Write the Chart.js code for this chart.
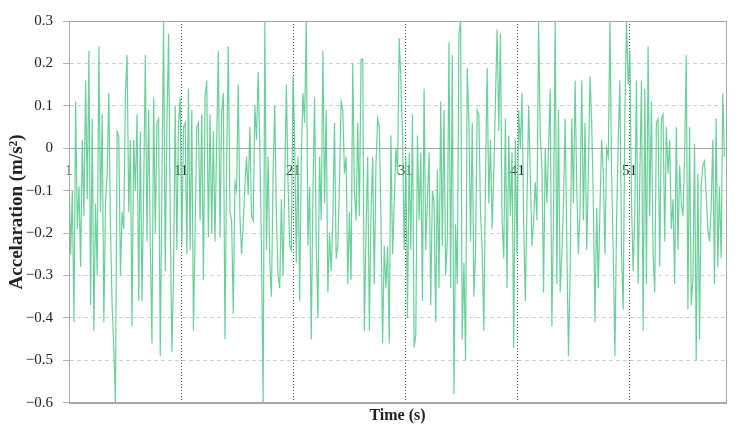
<!DOCTYPE html>
<html>
<head>
<meta charset="utf-8">
<script src="https://cdn.jsdelivr.net/npm/chart.js@4.4.0/dist/chart.umd.min.js"></script>
<style>
  html, body { margin: 0; padding: 0; background: #fff; }
  #wrap { width: 741px; height: 431px; }
</style>
</head>
<body>
<div id="wrap"><canvas id="accChart"></canvas></div>
<script>
// time axis: first sample and sample spacing (s)
const t0 = 1;
const dt = 0.148;

const xTicks = [1, 11, 21, 31, 41, 51];
const yTicks = [-0.6, -0.5, -0.4, -0.3, -0.2, -0.1, 0, 0.1, 0.2, 0.3];

// acceleration samples (m/s^2)
const accel = [
  -0.07, -0.25, -0.1, -0.41, 0.11, -0.19, -0.09, -0.28, 0.02, -0.16, 0.16, -0.12, 0.23, -0.37, 0.07, -0.43,
  -0.13, -0.3, 0.24, -0.15, 0.08, -0.41, -0.13, -0.06, 0.13, -0.19, -0.37, -0.47, -0.6, 0.04, 0.03, -0.3,
  -0.15, -0.19, 0.13, 0.22, -0.15, 0.02, -0.42, 0.02, -0.1, 0.08, -0.36, 0.04, -0.36, -0.1, 0.22, -0.22,
  0.09, -0.23, -0.46, 0.12, -0.2, 0.06, 0.07, -0.49, -0.09, 0.3, -0.29, 0.05,

  0.27, -0.16, -0.48, -0.3, 0.1, -0.24, 0.06, 0.12, -0.23, 0.05, 0.06, -0.25, 0.14, -0.24, 0.09, -0.43,
  -0.2, 0.05, 0.06, -0.17, 0.08, -0.31, 0.12, 0.16, -0.21, 0.08, -0.2, 0.04, -0.22, 0.02, 0.23, -0.21,
  0.08, 0.13, -0.45, -0.04, 0.24, -0.15, -0.17, -0.39, -0.08, -0.1, 0.15, -0.16, -0.25, -0.18, -0.09, -0.02,
  -0.11, 0.05, -0.16, -0.17, 0.1, 0.02, 0.18, 0.0, -0.24, -0.6, 0.3, -0.24, -0.02, -0.27, -0.35, -0.06,

  0.1, -0.16, -0.3, -0.33, -0.12, -0.3, -0.09, 0.15, -0.08, -0.23, -0.24, 0.17, 0.02, -0.27, -0.02, -0.36,
  -0.02, 0.13, 0.06, 0.3, -0.23, -0.09, -0.45, -0.11, 0.12, -0.23, -0.4, -0.02, -0.17, 0.23, -0.13, 0.09,
  -0.34, -0.2, -0.29, -0.17, 0.06, -0.26, -0.23, -0.08, 0.11, 0.09, -0.06, -0.02, -0.32, -0.15, -0.31, 0.2,
  -0.1, -0.17, 0.06, -0.16, 0.21, 0.21, -0.43, -0.2, -0.02, -0.43, -0.16, -0.02, -0.32, -0.04, 0.07, 0.05,
  -0.17, -0.46, -0.23,

  -0.33, -0.23, -0.46, 0.03, -0.25, -0.13, 0.0, -0.06, 0.26, 0.16, 0.03, -0.24, -0.02, -0.4, -0.01, -0.24,
  0.08, -0.47, -0.44, 0.03, -0.17, -0.01, -0.36, 0.14, -0.24, -0.12, -0.01, -0.37, -0.1, -0.13, -0.41, -0.05,
  -0.33, 0.11, -0.23, 0.09, -0.3, -0.22, 0.25, -0.33, 0.22, -0.58, -0.18, -0.32, 0.27, 0.3, -0.45, -0.27,
  -0.5, 0.19, 0.06, -0.22, 0.06, -0.35, -0.25, 0.09, 0.08, -0.15, -0.24, -0.43, -0.08, 0.19, -0.13, 0.02,
  -0.19, -0.06, 0.11, 0.28, 0.04,

  0.27, -0.17, -0.26, 0.07, -0.33, 0.03, -0.16, -0.01, -0.47, 0.02, -0.25, 0.09, 0.0, 0.13, -0.17, -0.36,
  -0.13, 0.1, -0.06, -0.23, -0.17, -0.08, -0.17, 0.3, 0.03, -0.04, -0.34, 0.0, -0.13, 0.0, 0.14, -0.42,
  -0.16, 0.3, -0.32, 0.09, -0.34, -0.25, -0.13, 0.07, -0.22, -0.49, -0.3, 0.07, -0.13, 0.16, -0.09, -0.25,
  -0.14, 0.16, -0.17, 0.06, -0.24, -0.06, 0.17, 0.06, -0.13, -0.41, -0.14, -0.33, -0.14, 0.02, -0.06, -0.25,
  0.0, -0.02, 0.3, -0.06,

  -0.25, -0.49, -0.17, 0.02, 0.16, -0.25, -0.38, 0.08, 0.3, 0.15, 0.23, -0.13, -0.29, -0.15, 0.16, -0.32,
  -0.07, 0.16, -0.43, 0.14, -0.32, 0.24, -0.16, 0.11, -0.25, -0.34, 0.06, 0.07, -0.28, 0.07, 0.08, -0.22,
  0.05, -0.06, 0.02, -0.19, -0.12, -0.32, 0.05, -0.24, -0.04, -0.13, -0.16, -0.02, 0.22, -0.38, 0.05, -0.37,
  -0.31, 0.01, -0.5, -0.06, -0.45, -0.09, -0.04, -0.03, -0.11, -0.19, -0.22, -0.14, 0.02, -0.32, 0.07, -0.28,
  -0.09, -0.26, 0.13, -0.02
];

const points = accel.map((v, i) => ({ x: t0 + i * dt, y: v }));

const serif = "'Liberation Serif', 'Times New Roman', serif";

// grey frame round the plot area
const frame = {
  id: 'frame',
  afterDatasetsDraw(chart) {
    const { ctx, chartArea: a } = chart;
    ctx.save();
    ctx.strokeStyle = '#a6a6a6';
    ctx.lineWidth = 1;
    ctx.strokeRect(Math.round(a.left) + 0.5, Math.round(a.top) + 0.5,
      Math.round(a.right - a.left), Math.round(a.bottom - a.top));
    ctx.restore();
  }
};

new Chart(document.getElementById('accChart'), {
  type: 'line',
  data: {
    datasets: [{
      label: 'Accelaration',
      data: points,
      borderColor: 'rgba(80, 200, 135, 0.85)',
      borderWidth: 1.2,
      pointRadius: 0,
      tension: 0,
      fill: false
    }]
  },
  options: {
    responsive: true,
    maintainAspectRatio: false,
    animation: false,
    layout: { padding: { top: 21, right: 15, left: 6, bottom: 6 } },
    plugins: {
      legend: { display: false },
      tooltip: { enabled: false }
    },
    scales: {
      x: {
        type: 'linear',
        min: 1,
        max: 59.6,
        position: { y: 0 },
        afterBuildTicks: axis => { axis.ticks = xTicks.map(v => ({ value: v })); },
        ticks: {
          padding: 14,
          autoSkip: false,
          color: '#222',
          font: { family: serif, size: 15 },
          maxRotation: 0
        },
        grid: { color: '#555', lineWidth: 1, drawTicks: false },
        border: { display: true, color: '#a6a6a6', dash: [1, 2] }
      },
      x2: {
        type: 'linear',
        min: 1,
        max: 59.6,
        position: 'bottom',
        ticks: { display: false },
        grid: { display: false, drawTicks: false },
        border: { display: true, color: '#a6a6a6' },
        title: {
          display: true,
          text: 'Time (s)',
          color: '#222',
          padding: { top: 3, bottom: 0 },
          font: { family: serif, size: 16, weight: 'bold' }
        }
      },
      y: {
        min: -0.6,
        max: 0.3,
        afterBuildTicks: axis => { axis.ticks = yTicks.map(v => ({ value: v })); },
        afterFit: axis => { axis.width = 63; },
        ticks: {
          padding: 10,
          color: '#222',
          font: { family: serif, size: 15 },
          callback: v => {
            const r = Math.round(v * 10) / 10;
            return r === 0 ? '0' : String(r).replace('-', '\u2212');
          }
        },
        grid: { color: '#d0d0d0', lineWidth: 1, drawTicks: true, tickLength: 6, tickColor: '#b0b0b0' },
        border: { display: true, color: '#a6a6a6', dash: [4, 3] },
        title: {
          display: true,
          text: 'Accelaration (m/s²)',
          color: '#222',
          padding: { top: 0, bottom: 2 },
          font: { family: serif, size: 19, weight: 'bold' }
        }
      }
    }
  },
  plugins: [frame]
});
</script>
</body>
</html>
